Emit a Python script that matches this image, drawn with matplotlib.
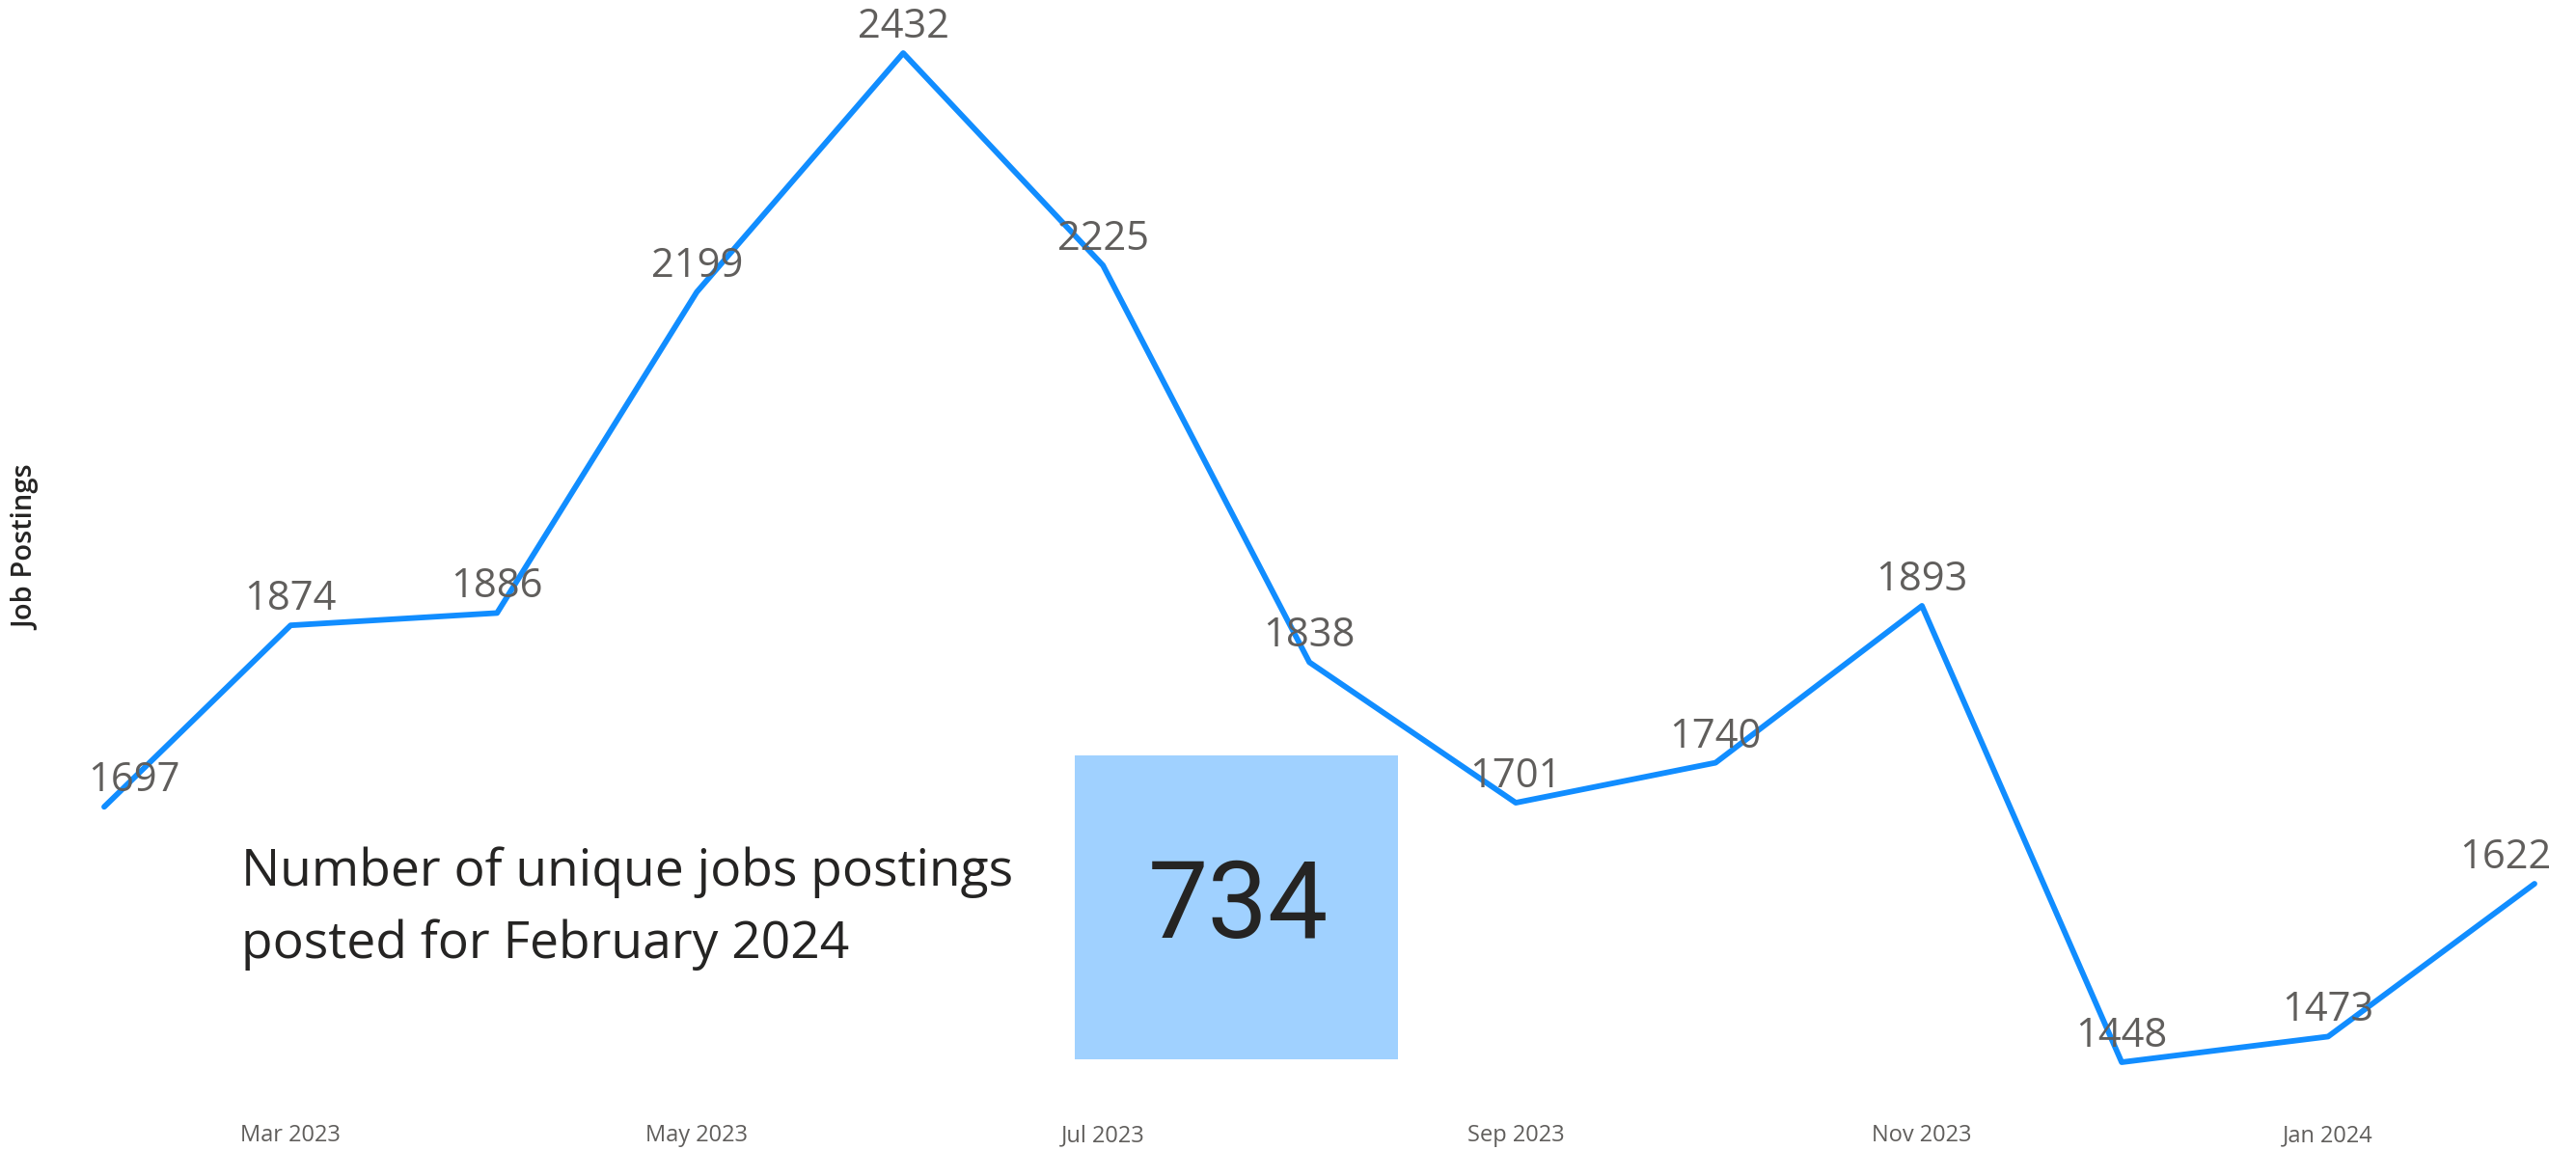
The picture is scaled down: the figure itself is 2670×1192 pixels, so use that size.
import matplotlib
matplotlib.use("Agg")
import matplotlib.pyplot as plt
import matplotlib.dates as mdates
from matplotlib.patches import Rectangle
import datetime as dt

months = ["2023-02-01", "2023-03-01", "2023-04-01", "2023-05-01", "2023-06-01", "2023-07-01",
          "2023-08-01", "2023-09-01", "2023-10-01", "2023-11-01", "2023-12-01", "2024-01-01",
          "2024-02-01"]
postings = [1697, 1874, 1886, 2199, 2432, 2225, 1838, 1701, 1740, 1893, 1448, 1473, 1622]
tick_dates = ["2023-03-01", "2023-05-01", "2023-07-01", "2023-09-01", "2023-11-01", "2024-01-01"]
tick_labels = ["Mar 2023", "May 2023", "Jul 2023", "Sep 2023", "Nov 2023", "Jan 2024"]
card_value = "734"
card_text = ["Number of unique jobs postings", "posted for February 2024"]

to_num = lambda s: mdates.date2num(dt.datetime.strptime(s, "%Y-%m-%d"))
xd = [to_num(m) for m in months]
xt = [to_num(m) for m in tick_dates]

W, H = 2670, 1192
fig = plt.figure(figsize=(W / 100, H / 100), dpi=100)
fig.patch.set_facecolor("white")

FONT = "Open Sans"
LINE = "#118DFF"
LBL = "#605E5C"
DARK = "#252423"

ax = fig.add_axes([108 / W, 1 - 1101 / H, (2627 - 108) / W, (1101 - 55) / H])
ax.plot(xd, postings, color=LINE, lw=4.2, solid_joinstyle="round",
        solid_capstyle="round", clip_on=False, zorder=3)
ax.set_xlim(xd[0], xd[-1])
ax.set_ylim(min(postings), max(postings))
for s in ax.spines.values():
    s.set_visible(False)
ax.set_yticks([])
ax.set_xticks(xt)
ax.set_xticklabels(tick_labels, fontsize=17, color=LBL, family=FONT)
ax.tick_params(axis="x", length=0, pad=46)
ax.patch.set_alpha(0)

for i, v in enumerate(postings):
    dx = 0
    if i == 0:
        dx = 22
    elif i == len(postings) - 1:
        dx = -22
    ax.annotate(str(v), (xd[i], v), xytext=(dx, 11.5), textcoords="offset points",
                ha="center", va="baseline", fontsize=30, color=LBL, family=FONT,
                zorder=4, annotation_clip=False)

fig.text(28 / W, 1 - 568 / H, "Job Postings", rotation=90, ha="center", va="center",
         fontsize=21, color=DARK, family=FONT, fontweight="semibold")

# card
fig.patches.append(Rectangle((1114 / W, 1 - 1098 / H), 335 / W, 315 / H,
                             transform=fig.transFigure, facecolor="#A0D1FF",
                             edgecolor="none", zorder=5))
fig.text(1283 / W, 1 - 972 / H, card_value, ha="center", va="baseline",
         fontsize=80, color=DARK, family="Roboto", zorder=6)
fig.text(250 / W, 1 - 918 / H, card_text[0], ha="left", va="baseline",
         fontsize=38.4, color=DARK, family=FONT, zorder=6)
fig.text(250 / W, 1 - 993 / H, card_text[1], ha="left", va="baseline",
         fontsize=38.4, color=DARK, family=FONT, zorder=6)

fig.savefig("out.png", dpi=100, facecolor="white")
